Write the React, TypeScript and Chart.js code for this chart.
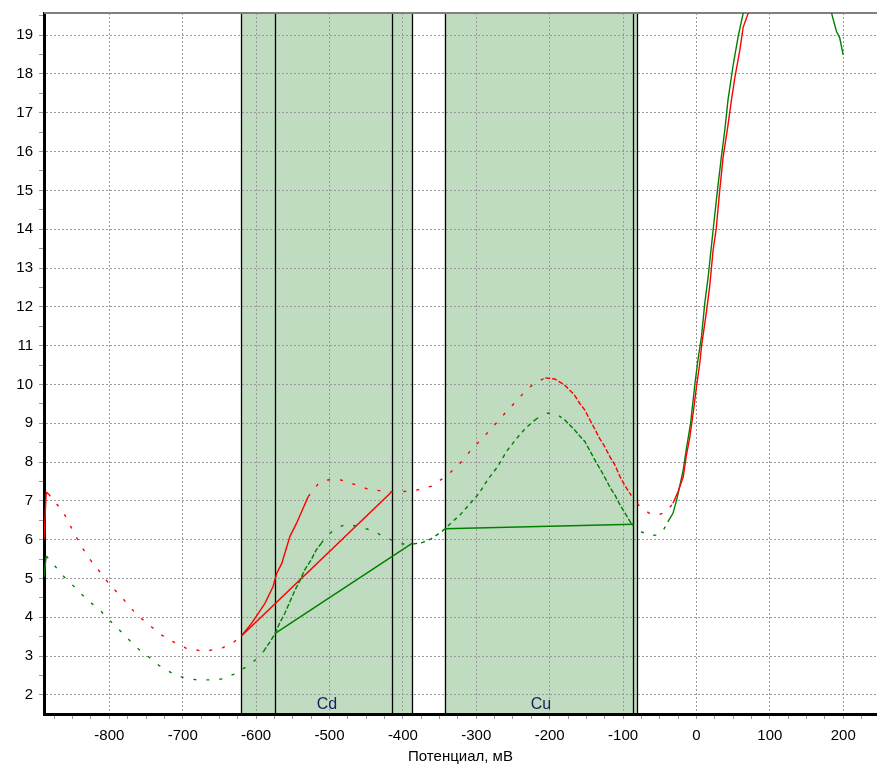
import React, { useEffect, useRef } from 'react';
import { Chart, registerables } from 'chart.js';

Chart.register(...registerables);

const FONT = '"Liberation Sans", Arial, sans-serif';

// X axis (potential, mV)
const xMin = -889;
const xMax = 246;
const xMajorTicks = [-800, -700, -600, -500, -400, -300, -200, -100, 0, 100, 200];
const xMinorStep = 25;
// Y axis
const yMin = 1.51;
const yMax = 19.57;
const yMajorTicks = [2, 3, 4, 5, 6, 7, 8, 9, 10, 11, 12, 13, 14, 15, 16, 17, 18, 19];
const yMinorStep = 0.5;

const xTitle = 'Потенциал, мВ';

// Peak regions
const regionNames = ['Cd', 'Cu'];
const regionStarts = [-620, -343];
const regionEnds = [-387, -81];
const markerLines = [-620, -574, -415.5, -387, -343, -86, -81];

// Red curve
const redX = [-889, -886, -883, -863, -849, -838, -824, -811, -799, -786, -772, -761, -747, -733, -720, -708, -695, -682, -670, -656, -645, -630, -620, -606, -597, -588, -577, -572, -565, -554, -545, -538, -529, -515, -502, -488, -477, -463, -450, -438, -425, -411, -400, -386, -372, -361, -347, -335, -322, -309, -296, -282, -270, -258, -244, -232, -219, -206, -193, -180, -167, -159, -152, -145, -139, -132, -125, -118, -111, -104, -98, -91, -77, -64, -52, -41, -32, -25, -18, -14, -9, -4.5, 0, 4.5, 7, 13.6, 18, 22.7, 27, 31.7, 36.4, 42, 47.7, 52.2, 59, 63.6, 70.4, 74];
const redY = [6.0, 7.22, 7.18, 6.72, 6.21, 5.82, 5.43, 5.13, 4.83, 4.58, 4.27, 4.04, 3.83, 3.60, 3.43, 3.33, 3.20, 3.16, 3.12, 3.18, 3.22, 3.37, 3.52, 3.85, 4.10, 4.36, 4.79, 5.13, 5.39, 6.08, 6.42, 6.72, 7.11, 7.45, 7.54, 7.56, 7.49, 7.41, 7.32, 7.28, 7.24, 7.24, 7.24, 7.26, 7.32, 7.38, 7.56, 7.74, 7.97, 8.27, 8.53, 8.81, 9.06, 9.32, 9.60, 9.86, 10.05, 10.17, 10.14, 9.99, 9.75, 9.51, 9.34, 9.08, 8.87, 8.61, 8.40, 8.14, 7.92, 7.62, 7.41, 7.20, 6.85, 6.68, 6.64, 6.72, 6.94, 7.24, 7.62, 8.14, 8.65, 9.26, 9.94, 10.54, 11.0, 11.87, 12.52, 13.46, 14.02, 15.0, 15.87, 16.55, 17.33, 17.89, 18.6, 19.2, 19.56, 20.2];

// Green curve
const greenX = [-889, -886, -874, -863, -851, -837, -824, -811, -799, -786, -772, -760, -747, -733, -721, -708, -695, -681, -670, -656, -644, -630, -618, -605, -590, -581, -574, -568, -561, -554, -547, -540, -534, -525, -518, -511, -503, -488, -477, -463, -451, -438, -425, -412, -400, -386, -373, -361, -347, -335, -322, -309, -296, -284, -271, -259, -245, -232, -219, -206, -193, -180, -167, -159, -152, -142, -136, -129, -123, -117, -111, -104, -100, -93, -89, -76, -64, -52, -45, -39, -32, -27, -23, -18, -14, -8, -2, 2, 7, 11.3, 16, 22.7, 28.6, 34, 38.6, 43, 50, 56.8, 63.6, 67];
const greenY = [5.04, 5.58, 5.32, 5.07, 4.85, 4.58, 4.36, 4.15, 3.91, 3.67, 3.40, 3.18, 2.99, 2.77, 2.63, 2.50, 2.43, 2.39, 2.39, 2.39, 2.42, 2.54, 2.67, 2.83, 3.12, 3.37, 3.59, 3.85, 4.10, 4.40, 4.70, 4.96, 5.22, 5.48, 5.74, 5.91, 6.12, 6.32, 6.40, 6.35, 6.29, 6.21, 6.06, 5.97, 5.89, 5.89, 5.93, 6.03, 6.21, 6.42, 6.64, 6.92, 7.20, 7.56, 7.88, 8.27, 8.61, 8.89, 9.10, 9.26, 9.26, 9.10, 8.85, 8.67, 8.53, 8.18, 7.97, 7.75, 7.54, 7.32, 7.15, 6.89, 6.77, 6.55, 6.42, 6.21, 6.11, 6.12, 6.25, 6.46, 6.68, 7.02, 7.36, 7.80, 8.31, 9.00, 10.03, 10.63, 11.25, 12.09, 12.78, 13.98, 15.0, 15.87, 16.55, 17.33, 18.23, 18.96, 19.56, 20.2];
// Green curve returning from above the top edge
const greenTailX = [182, 184, 190.7, 195.2, 199.9];
const greenTailY = [20.0, 19.57, 19.1, 18.93, 18.49];

// Peak baselines
const redBaseX = [-620, -415.5];
const redBaseY = [3.52, 7.23];
const greenBase1X = [-574, -387];
const greenBase1Y = [3.59, 5.91];
const greenBase2X = [-343, -86];
const greenBase2Y = [6.28, 6.40];

// Line-style ranges along the potential axis: 0 sparse dots, 1 medium dashes, 2 dense dashes, 3 solid
const redStyleStarts = [-889, -884, -622, -527, -200, -92, -35];
const redStyleKinds = [3, 0, 3, 0, 2, 0, 3];
const greenStyleStarts = [-889, -885, -592, -511, -380, -215, -185, -88, -40];
const greenStyleKinds = [3, 0, 2, 0, 1, 0, 2, 0, 3];
const DASHES = [[3, 10], [4, 4], [5, 2], []];

const RED = '#ff0000';
const GREEN = '#008000';
const SHADE = '#c0dcc0';

const pts = (xs: number[], ys: number[]) => xs.map((x, i) => ({ x, y: ys[i] }));

const styler = (xs: number[], starts: number[], kinds: number[]) => (ctx: any) => {
  const mid = (xs[ctx.p0DataIndex] + xs[ctx.p1DataIndex]) / 2;
  let k = kinds[0];
  for (let i = 0; i < starts.length; i++) if (mid >= starts[i]) k = kinds[i];
  return DASHES[k];
};

const isMult = (v: number, m: number) => Math.abs(v / m - Math.round(v / m)) < 1e-6;

const overlayPlugin = {
  id: 'overlay',
  beforeDraw(chart: any) {
    const { ctx, chartArea: a, scales } = chart;
    const xs = scales.x;
    ctx.save();
    ctx.fillStyle = SHADE;
    regionStarts.forEach((s, i) => {
      const x0 = xs.getPixelForValue(s);
      const x1 = xs.getPixelForValue(regionEnds[i]);
      ctx.fillRect(x0, a.top, x1 - x0, a.bottom - a.top);
    });
    ctx.restore();
  },
  beforeDatasetsDraw(chart: any) {
    const { ctx, chartArea: a, scales } = chart;
    const xs = scales.x;
    ctx.save();
    ctx.strokeStyle = '#000';
    ctx.lineWidth = 1.3;
    markerLines.forEach((v) => {
      const px = Math.round(xs.getPixelForValue(v)) + 0.5;
      ctx.beginPath();
      ctx.moveTo(px, a.top);
      ctx.lineTo(px, a.bottom);
      ctx.stroke();
    });
    ctx.strokeStyle = '#808080';
    ctx.lineWidth = 2;
    ctx.beginPath();
    ctx.moveTo(a.left, a.top);
    ctx.lineTo(a.right, a.top);
    ctx.stroke();
    ctx.fillStyle = '#1a1a66';
    ctx.font = '16px ' + FONT;
    ctx.textAlign = 'center';
    ctx.textBaseline = 'alphabetic';
    regionNames.forEach((n, i) => {
      const cx = (xs.getPixelForValue(regionStarts[i]) + xs.getPixelForValue(regionEnds[i])) / 2;
      ctx.fillText(n, cx, a.bottom - 5);
    });
    ctx.restore();
  },
};

export default function App() {
  const ref = useRef<HTMLCanvasElement | null>(null);
  useEffect(() => {
    if (!ref.current) return;
    const xTicks: number[] = [];
    for (let v = Math.ceil(xMin / xMinorStep) * xMinorStep; v <= xMax; v += xMinorStep) xTicks.push(v);
    const yTicks: number[] = [];
    for (let v = Math.ceil(yMin / yMinorStep) * yMinorStep; v <= yMax + 1e-9; v += yMinorStep) yTicks.push(Math.round(v * 10) / 10);
    const lineDs = (xs: number[], ys: number[], color: string, width: number, seg?: any) => ({
      data: pts(xs, ys), borderColor: color, borderWidth: width, pointRadius: 0,
      ...(seg ? { segment: { borderDash: seg } } : {}),
    });

    const chart = new Chart(ref.current, {
      type: 'line',
      data: {
        datasets: [
          lineDs(redX, redY, RED, 1.4, styler(redX, redStyleStarts, redStyleKinds)),
          lineDs(greenX, greenY, GREEN, 1.4, styler(greenX, greenStyleStarts, greenStyleKinds)),
          lineDs(greenTailX, greenTailY, GREEN, 1.4),
          lineDs(redBaseX, redBaseY, RED, 1.5),
          lineDs(greenBase1X, greenBase1Y, GREEN, 1.5),
          lineDs(greenBase2X, greenBase2Y, GREEN, 1.5),
        ] as any,
      },
      options: {
        animation: false,
        responsive: true,
        maintainAspectRatio: false,
        parsing: false as any,
        layout: { padding: { top: 13, right: 0, left: 0, bottom: 0 } },
        plugins: { legend: { display: false }, tooltip: { enabled: false } },
        elements: { line: { tension: 0 } },
        scales: {
          x: {
            type: 'linear',
            min: xMin,
            max: xMax,
            afterBuildTicks: (s: any) => { s.ticks = xTicks.map((value) => ({ value })); },
            afterFit: (s: any) => { s.height = 52; s.paddingLeft = 0; s.paddingRight = 0; },
            ticks: {
              autoSkip: false,
              maxRotation: 0,
              padding: 8,
              color: '#000',
              font: { family: FONT, size: 15 },
              callback: (v: any) => (xMajorTicks.includes(Number(v)) ? String(v) : ''),
            },
            grid: {
              color: (c: any) => (c.tick && xMajorTicks.includes(c.tick.value) ? '#999999' : 'rgba(0,0,0,0)'),
              tickColor: '#999999',
              tickLength: 5,
              lineWidth: 1,
            },
            border: { display: true, color: '#000', width: 3, dash: [2, 2] },
            title: {
              display: true,
              text: xTitle,
              color: '#000',
              font: { family: FONT, size: 15 },
              padding: { top: 0, bottom: 0 },
            },
          },
          y: {
            type: 'linear',
            min: yMin,
            max: yMax,
            afterBuildTicks: (s: any) => { s.ticks = yTicks.map((value) => ({ value })); },
            afterFit: (s: any) => { s.width = 44; s.paddingTop = 0; s.paddingBottom = 0; },
            ticks: {
              autoSkip: false,
              padding: 6,
              color: '#000',
              font: { family: FONT, size: 15 },
              callback: (v: any) => (yMajorTicks.includes(Number(v)) ? String(v) : ''),
            },
            grid: {
              color: (c: any) => (c.tick && yMajorTicks.includes(c.tick.value) ? '#999999' : 'rgba(0,0,0,0)'),
              tickColor: '#999999',
              tickLength: 5,
              lineWidth: 1,
            },
            border: { display: true, color: '#000', width: 3, dash: [2, 2] },
          },
        },
      },
      plugins: [overlayPlugin],
    });
    return () => chart.destroy();
  }, []);

  return (
    <div style={{ position: 'absolute', left: 0, top: 0, width: 877, height: 766, background: '#fff' }}>
      <canvas ref={ref} />
    </div>
  );
}
